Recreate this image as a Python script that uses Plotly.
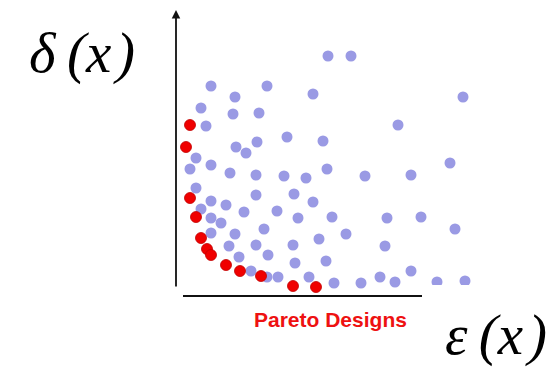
import plotly.graph_objects as go

W, H = 559, 367

# Pareto (red) designs: epsilon(x), delta(x)
pareto_eps = [14, 10, 14, 20, 25, 31, 35, 50, 64, 85, 117, 140]
pareto_delta = [171, 149, 98, 79, 58, 47, 41, 31, 25, 20, 10, 9]

# Other (dominated) designs
other_eps = [152, 175, 35, 91, 59, 137, 287, 25, 57, 83, 30, 222, 111, 147, 60, 70, 81,
             20, 274, 14, 35, 54, 80, 108, 130, 151, 189, 235, 20, 35, 50, 80, 118, 137,
             25, 35, 45, 68, 101, 122, 156, 211, 245, 279, 35, 59, 88, 143, 170, 53, 80,
             117, 209, 63, 92, 119, 150, 75, 91, 102, 133, 158, 185, 204, 219, 235, 261, 289]
other_delta = [240, 240, 210, 210, 199, 202, 199, 188, 182, 183, 170, 171, 159, 155, 149, 143, 154,
               138, 133, 127, 131, 123, 121, 120, 118, 127, 120, 121, 108, 95, 91, 101, 102, 94,
               87, 78, 73, 84, 85, 78, 79, 78, 79, 67, 63, 62, 67, 57, 62, 50, 51,
               51, 50, 39, 41, 33, 35, 25, 19, 19, 19, 13, 13, 19, 14, 25, 14, 15]

y_label = "<i>\u03b4\u2009(x\u200a)</i>"
x_label = "<i>\u03b5\u2009(x\u200a)</i>"
legend_text = "Pareto Designs"

fig = go.Figure()
fig.add_trace(go.Scatter(x=other_eps, y=other_delta, mode="markers",
                         marker=dict(size=11, color="#9a9ae4", line=dict(width=0)),
                         hoverinfo="skip"))
fig.add_trace(go.Scatter(x=pareto_eps, y=pareto_delta, mode="markers",
                         marker=dict(size=11, color="#f00000", line=dict(width=0.8, color="#c00000")),
                         hoverinfo="skip"))

# y axis arrow
fig.add_annotation(x=0, y=286, ax=0, ay=8, xref="x", yref="y", axref="x", ayref="y",
                   text="", showarrow=True, arrowhead=2, arrowsize=0.95, arrowwidth=1.8,
                   arrowcolor="#111111", standoff=0)
# x axis line
fig.add_shape(type="line", x0=7, x1=246, y0=0, y1=0, xref="x", yref="y",
              line=dict(color="#111111", width=2))

# clip region at bottom-right like the reference
fig.add_shape(type="rect", x0=247, x1=400, y0=-80, y1=11, xref="x", yref="y",
              fillcolor="white", line=dict(width=0), layer="above")

fig.add_annotation(x=154, y=-23, xref="x", yref="y", text="<b>" + legend_text + "</b>",
                   showarrow=False, font=dict(family="Liberation Sans, Arial", size=21, color="#ee1111"))
fig.add_annotation(x=82 / W, y=(H - 53) / H, xref="paper", yref="paper", text=y_label,
                   showarrow=False, xanchor="center", yanchor="middle",
                   font=dict(family="Liberation Serif, Times New Roman", size=57, color="black"))
fig.add_annotation(x=496 / W, y=(H - 335) / H, xref="paper", yref="paper", text=x_label,
                   showarrow=False, xanchor="center", yanchor="middle",
                   font=dict(family="Liberation Serif, Times New Roman", size=57, color="black"))

fig.update_layout(
    width=W, height=H,
    margin=dict(l=0, r=0, t=0, b=0),
    paper_bgcolor="white", plot_bgcolor="white",
    showlegend=False,
    xaxis=dict(range=[-176, 383], visible=False, domain=[0, 1]),
    yaxis=dict(range=[-71, 296], visible=False, domain=[0, 1]),
)
fig.write_html("out.html")
